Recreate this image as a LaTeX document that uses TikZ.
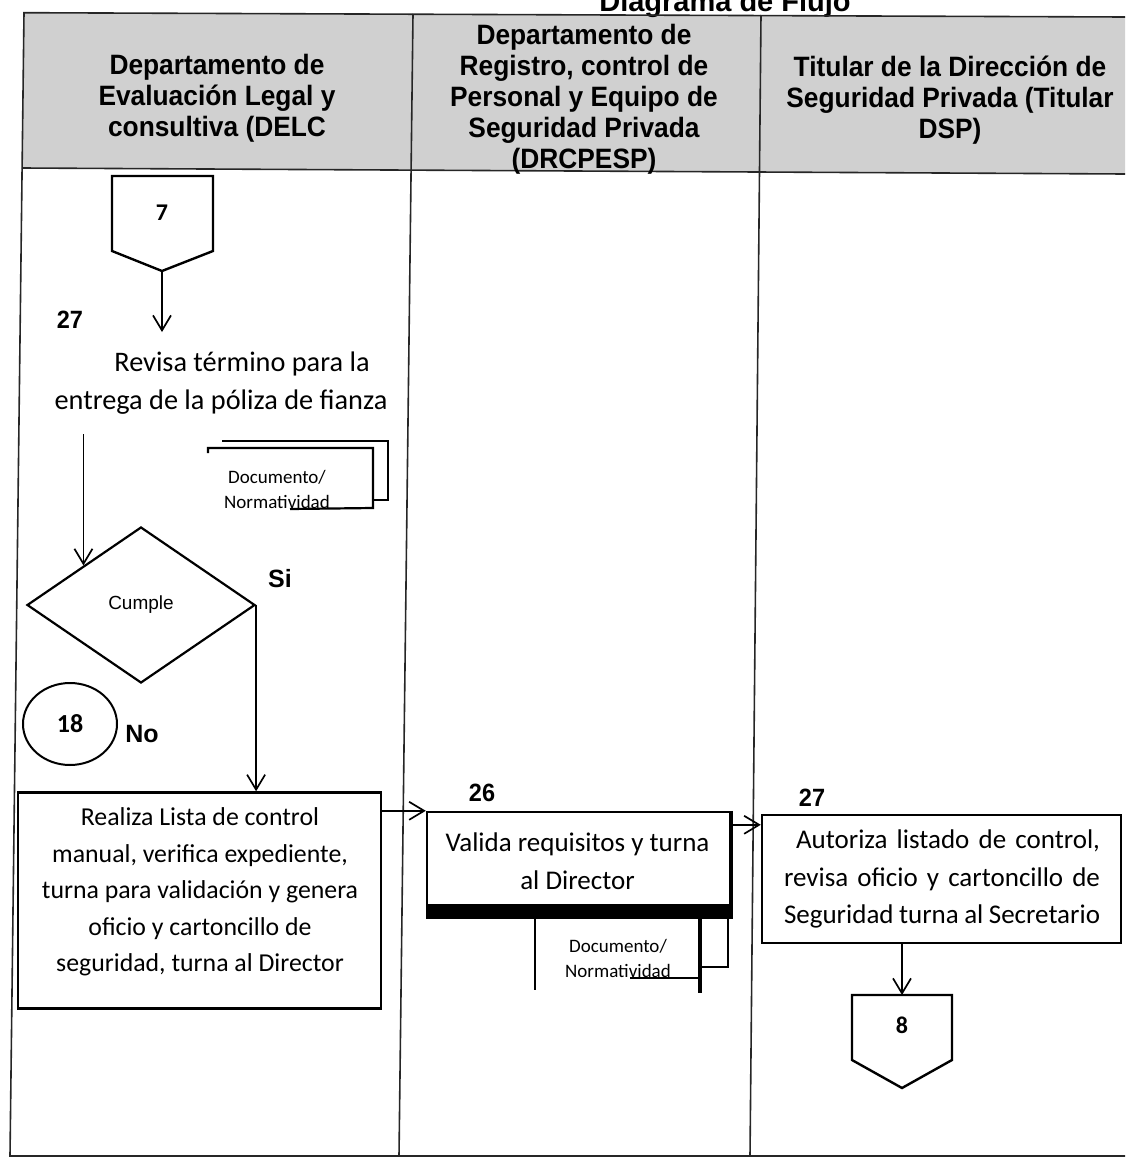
\documentclass[tikz,border=0pt]{standalone}
\usepackage{fontspec}
\setmainfont{Carlito}
\newfontfamily\arialf{Liberation Sans}
\newfontfamily\arialn[FakeStretch=0.94]{Liberation Sans}
\usetikzlibrary{arrows.meta,shapes.geometric,calc}
\begin{document}
\begin{tikzpicture}[x=1pt,y=-1pt,
  tbl/.style={line width=1.6pt, draw=black!85},
  hdr/.style={font=\arialn\bfseries\fontsize{28}{31}\selectfont, align=center, inner sep=0pt},
  body/.style={font=\fontsize{27}{37.5}\selectfont, align=center, inner sep=0pt},
  lbl/.style={font=\arialn\bfseries\fontsize{25}{26}\selectfont, inner sep=0pt},
  yn/.style={font=\arialf\bfseries\fontsize{25}{28}\selectfont, inner sep=0pt},
  num/.style={font=\bfseries\fontsize{24}{28}\selectfont, inner sep=0pt},
  small/.style={font=\fontsize{19}{25}\selectfont, align=center, inner sep=0pt},
  box/.style={draw, line width=2.4pt},
  arr/.style={-{Straight Barb[length=15pt,width=18pt,line width=1.7pt]}, line width=1.7pt},
  ln/.style={line width=2.2pt},
]
\useasboundingbox (0,0) rectangle (1125,1159);
% ---------- table ----------
\fill[gray!37] (24,12.7) -- (1125,17) -- (1125,174) -- (22,168) -- cycle;
\node[font=\arialf\bfseries\fontsize{29}{34}\selectfont, anchor=base, inner sep=0pt] (title) at (725,11) {Diagrama de Flujo};
\draw[tbl] (1125,17) -- (24,12.7) -- (10,1156) -- (1125,1156);
\draw[tbl] (22,168) -- (1125,174);
\draw[tbl] (413,14) -- (399,1156);
\draw[tbl] (761,15) -- (750,1156);
\node[hdr] (h1) at (217,98) {Departamento de\\Evaluación Legal y\\consultiva (DELC};
\node[hdr] (h2) at (584,99) {Departamento de\\Registro, control de\\Personal y Equipo de\\Seguridad Privada\\(DRCPESP)};
\node[hdr] (h3) at (950,100) {Titular de la Dirección de\\Seguridad Privada (Titular\\DSP)};
% ---------- column 1 ----------
\draw[box] (112,176) -- (213,176) -- (213,251) -- (162,271) -- (112,251) -- cycle;
\node[num, font=\bfseries\fontsize{24}{26}\selectfont] (n7) at (162,213) {7};
\coordinate (p7) at (162,271);
\coordinate (a7) at (162,332);
\draw[arr] (p7) -- (a7);
\node[lbl] (s27a) at (70,320) {27};
\node[body, font=\fontsize{28.3}{38}\selectfont] (rev) at (221,383) {\hspace*{42pt}Revisa término para la\\entrega de la póliza de fianza};
% document stack
\draw[ln] (222,441) -- (388,441) -- (388,500) -- (372,500);
\draw[ln] (208,453) -- (208,448) -- (373,448) -- (373,508) -- (290,509);
\node[small] (doc1) at (277,489) {Documento/\\Normatividad};
% decision
\node[draw, diamond, line width=2.2pt, minimum width=228pt, minimum height=156pt, inner sep=0pt,
      font=\arialf\fontsize{19}{22}\selectfont] (dia) at (141,605) {Cumple};
\coordinate (rl) at ($(dia.north west)+(0,-131)$);
\draw[arr] (rl) -- (dia.north west);
\node[yn] (si) at (280,579) {Si};
\node[draw, ellipse, line width=2pt, minimum width=94pt, minimum height=82pt, inner sep=0pt,
      font=\bfseries\fontsize{26}{28}\selectfont] (c18) at (70,724) {18};
\node[yn] (no) at (142,734) {No};
% action box
\node[box, minimum width=363pt, minimum height=216pt, inner sep=0pt] (rea) at (199.5,900.5) {};
\node[body, font=\fontsize{25.8}{36.5}\selectfont] (reat) at (200,892) {Realiza Lista de control\\manual, verifica expediente,\\turna para validación y genera\\oficio y cartoncillo de\\seguridad, turna al Director};
\draw[arr] (dia.east) -- (dia.east |- rea.north);
% ---------- column 2 ----------
\node[draw, line width=2.4pt, minimum width=303pt, minimum height=106pt, inner sep=0pt] (b26) at (578.5,865) {};
\fill ([yshift=15pt]b26.south west) rectangle (b26.south east);
\draw[line width=3.8pt] (b26.north east) -- (b26.south east);
\node[body] (b26t) at (577.5,861) {Valida requisitos y turna\\al Director};
\node[lbl] (s26) at (482,793) {26};
\draw[arr] ([yshift=-19.5pt]rea.north east) -- ([yshift=-19.5pt]rea.north east -| b26.west);
% document under 26
\draw[ln] (535,918) -- (535,990);
\draw[line width=3.4pt] (700,918) -- (700,993);
\draw[ln] (728,918) -- (728,967) -- (700,967);
\draw[ln] (630,978) -- (700,978);
\node[small] (doc2) at (618,958) {Documento/\\Normatividad};
% ---------- column 3 ----------
\node[box, minimum width=359pt, minimum height=128pt, inner sep=0pt] (b27) at (941.5,879) {};
\node[body] (b27t) at (942,879) {\hspace*{12pt}\makebox[304pt][s]{Autoriza listado de control,}\\\makebox[316pt][s]{revisa oficio y cartoncillo de}\\\makebox[316pt][s]{Seguridad turna al Secretario}};
\node[lbl] (s27b) at (812,798) {27};
\draw[arr] ([yshift=-14pt]b26.north east) -- ([yshift=-14pt]b26.north east -| b27.west);
\draw[box] (852,995) -- (952,995) -- (952,1060) -- (902,1088) -- (852,1060) -- cycle;
\coordinate (o8) at (902,995);
\draw[arr] (o8 |- b27.south) -- (o8);
\node[num] (n8) at (902,1025) {8};
\end{tikzpicture}
\end{document}
